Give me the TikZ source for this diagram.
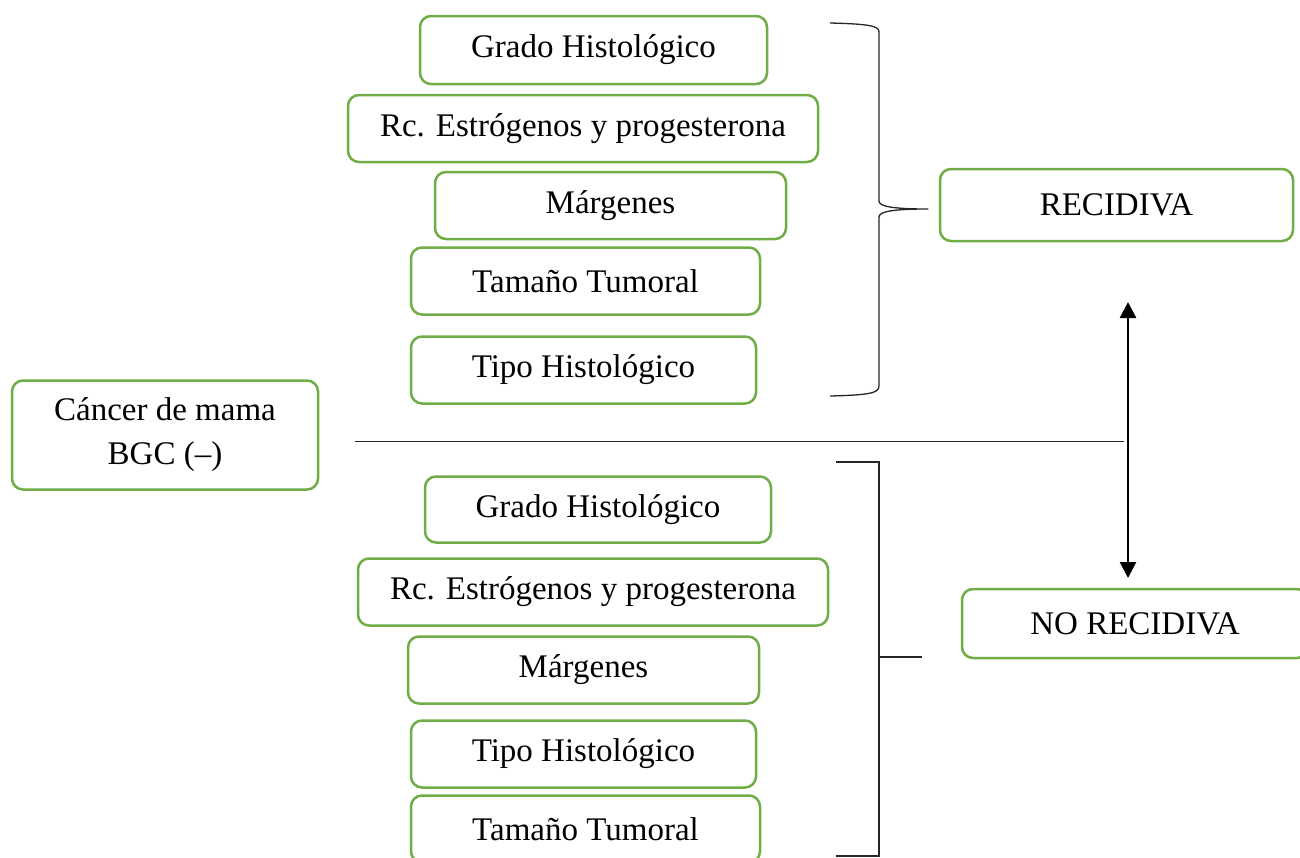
\documentclass[tikz,border=0pt]{standalone}
\usepackage{fontspec}
\setmainfont{Liberation Serif}
\usetikzlibrary{arrows.meta}
\definecolor{boxgreen}{HTML}{70AD47}
\begin{document}
\begin{tikzpicture}[x=1pt,y=-1pt,
  box/.style={draw=boxgreen, line width=2.5pt, rounded corners=11pt, fill=white, inner sep=0pt,
    font=\fontsize{33}{38}\selectfont, text=black, align=center},
  thin/.style={line width=1.3pt, draw=black!85},
  dbl/.style={line width=2.6pt, draw=black, {Triangle[width=16pt,length=16pt]}-{Triangle[width=16pt,length=16pt]}}]
\useasboundingbox (0,0) rectangle (1300,857);
% top group
\node[box, minimum width=347pt, minimum height=68pt] (tg) at (593.5,50) {Grado Histológico};
\node[box, minimum width=470pt, minimum height=67pt] (tr) at (583,128.5) {Rc. Estrógenos y progesterona};
\node[box, minimum width=351pt, minimum height=67pt] (tm) at (610.5,205.5) {Márgenes};
\node[box, minimum width=349pt, minimum height=67pt] (tt) at (585.5,281) {Tamaño Tumoral};
\node[box, minimum width=345pt, minimum height=67pt] (th) at (583.5,370) {Tipo Histológico};
% left
\node[box, minimum width=306pt, minimum height=109pt, font=\fontsize{33}{44}\selectfont] (cm) at (165,435) {Cáncer de mama\\BGC (–)};
% right
\node[box, minimum width=353pt, minimum height=72pt] (rec) at (1116.5,205) {RECIDIVA};
\node[box, minimum width=346pt, minimum height=69pt] (norec) at (1135,623.5) {NO RECIDIVA};
% bottom group
\node[box, minimum width=346pt, minimum height=66pt] (bg) at (598,509.5) {Grado Histológico};
\node[box, minimum width=470pt, minimum height=67pt] (br) at (593,592) {Rc. Estrógenos y progesterona};
\node[box, minimum width=351pt, minimum height=67pt] (bm) at (583.5,670) {Márgenes};
\node[box, minimum width=345pt, minimum height=67pt] (bh) at (583.5,754) {Tipo Histológico};
\node[box, minimum width=349pt, minimum height=67pt] (bt) at (585.5,829) {Tamaño Tumoral};
% horizontal divider
\coordinate (hl) at (355,441.5);
\coordinate (hr) at (1124,441.5);
\draw[thin] (hl) -- (hr);
% double arrow
\coordinate (at) at (1128,302);
\coordinate (ab) at (1128,578);
\draw[dbl] (at) -- (ab);
% brace
\coordinate (b1) at (830,23);
\coordinate (bp) at (928,209);
\coordinate (b2) at (830,396);
\draw[thin, line join=round] (b1) .. controls (870,24) and (879,26) .. (879,32)
  -- (879,201) .. controls (879,206) and (890,209) .. (bp)
  .. controls (890,209) and (879,212) .. (879,217)
  -- (879,386) .. controls (879,393) and (870,395) .. (b2);
% bracket
\coordinate (k1) at (836,462);
\coordinate (k2) at (836,856);
\coordinate (kt) at (922,657);
\draw[thin] (k1) -- (879,462) -- (879,856) -- (k2);
\draw[thin] (879,657) -- (kt);
\end{tikzpicture}
\end{document}
